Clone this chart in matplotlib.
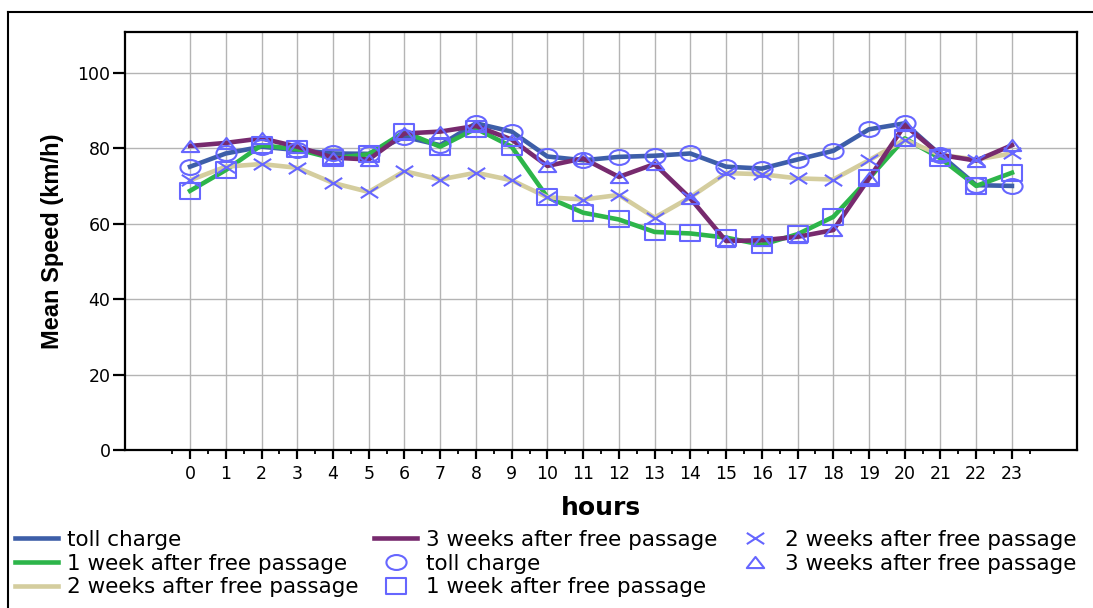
import numpy as np
import matplotlib.pyplot as plt
from matplotlib.path import Path
from matplotlib.transforms import Affine2D
from matplotlib.lines import Line2D

# hourly mean speeds (km/h)
hours = list(range(24))
toll = [75.1, 78.6, 80.4, 79.5, 78.6, 78.5, 83.0, 80.8, 86.6, 84.4, 77.8, 76.8,
        77.7, 78.0, 78.6, 75.1, 74.6, 77.0, 79.3, 85.0, 86.6, 78.2, 70.2, 70.0]
week1 = [68.7, 74.2, 80.8, 79.7, 77.3, 78.4, 84.3, 80.4, 85.2, 80.4, 67.0, 62.9,
         61.1, 57.8, 57.4, 56.3, 54.4, 57.2, 61.8, 72.0, 82.6, 77.3, 70.0, 73.5]
week2 = [71.5, 75.1, 75.8, 74.8, 70.8, 68.4, 73.9, 71.7, 73.5, 71.5, 67.0, 66.4,
         67.6, 61.6, 67.0, 73.4, 73.1, 72.0, 71.7, 76.8, 82.2, 78.2, 77.0, 78.6]
week3 = [80.6, 81.4, 82.6, 80.4, 77.5, 77.0, 83.9, 84.4, 85.9, 82.3, 75.3, 77.3,
         72.4, 75.8, 66.7, 55.4, 55.6, 56.5, 58.3, 72.0, 86.1, 78.2, 76.7, 80.8]

names = ['toll charge', '1 week after free passage',
         '2 weeks after free passage', '3 weeks after free passage']
line_colors = ['#3d5ea8', '#2db54a', '#d4cd9e', '#772a6e']
mk_col = '#6666ff'

# markers look a bit wider than tall in the original
circ = Path.unit_circle().transformed(Affine2D().scale(1.35, 1.0))
sq = Path([(-1.3, -1), (1.3, -1), (1.3, 1), (-1.3, 1), (-1.3, -1)],
          [Path.MOVETO, Path.LINETO, Path.LINETO, Path.LINETO, Path.CLOSEPOLY])
xm = Path([(-1.55, -1), (1.55, 1), (-1.55, 1), (1.55, -1)],
          [Path.MOVETO, Path.LINETO, Path.MOVETO, Path.LINETO])
tri = Path([(0, 0.5), (-0.78, -0.5), (0.78, -0.5), (0, 0.5)],
           [Path.MOVETO, Path.LINETO, Path.LINETO, Path.CLOSEPOLY])
markers = [circ, sq, xm, tri]
msizes = [14.5, 14.5, 12.5, 12.5]

fig = plt.figure(figsize=(10.93, 6.08), dpi=100)
ax = fig.add_axes([125/1093, 1-450/608, (1077-125)/1093, (450-32)/608])

series = [toll, week1, week2, week3]
for s, c, n in zip(series, line_colors, names):
    ax.plot(hours, s, color=c, lw=3.3, label=n, solid_joinstyle='round')
for s, m, ms, n in zip(series, markers, msizes, names):
    ax.plot(hours, s, linestyle='none', marker=m, ms=ms, mfc='none',
            mec=mk_col, mew=1.5, label=n)

ax.set_xlim(-1.82, 24.82)
ax.set_ylim(0, 110.8)
ax.set_xticks(hours)
ax.set_xticks(np.arange(-0.5, 24, 1), minor=True)
ax.set_yticks([0, 20, 40, 60, 80, 100])
ax.grid(True, color='#b4b4b4', lw=1.0)
ax.set_axisbelow(True)
for sp in ax.spines.values():
    sp.set_linewidth(1.6)
ax.tick_params(axis='both', which='major', direction='out', width=1.6,
               labelsize=12.5)
ax.tick_params(axis='y', length=9, pad=1.5)
ax.tick_params(axis='x', length=6.5, pad=4)
ax.tick_params(axis='x', which='minor', length=3, width=1.3)

ax.set_xlabel('hours', fontsize=18, fontweight='bold', labelpad=10)
ax.set_ylabel('Mean Speed (km/h)', fontsize=17, fontweight='bold',
              family='Liberation Sans', labelpad=10)

fig.legend(loc='upper left', bbox_to_anchor=(15/1093, 1-530/608), ncol=3,
           frameon=False, fontsize=15.5, borderpad=0, borderaxespad=0,
           handlelength=2.0, handletextpad=0.4, columnspacing=0.75,
           labelspacing=0.17, numpoints=1)

# outer frame
fig.add_artist(Line2D([8/1093, 8/1093], [0, 1-12/608], color='k', lw=1.5,
                      transform=fig.transFigure))
fig.add_artist(Line2D([8/1093, 1], [1-12/608, 1-12/608], color='k', lw=1.5,
                      transform=fig.transFigure))

fig.savefig('out.png', dpi=100)
